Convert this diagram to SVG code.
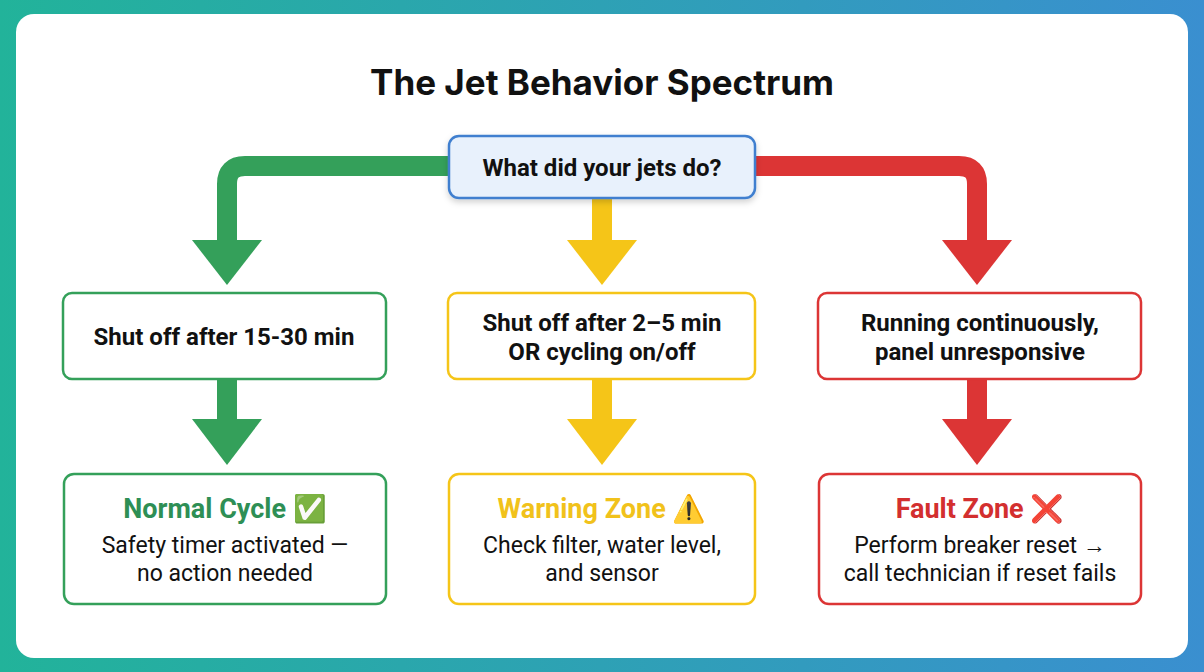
<svg xmlns="http://www.w3.org/2000/svg" width="1204" height="672" viewBox="0 0 1204 672">
<defs>
<linearGradient id="bg" x1="0" y1="0" x2="1" y2="0"><stop offset="0" stop-color="#22b39a"/><stop offset="1" stop-color="#3a8fd0"/></linearGradient>
<filter id="sh" x="-10%" y="-20%" width="120%" height="150%"><feDropShadow dx="0" dy="3" stdDeviation="3" flood-opacity="0.18"/></filter>
</defs>
<style>
text{font-family:Roboto,"Noto Sans","Liberation Sans",sans-serif;text-anchor:middle}
.t{font-size:24px;font-weight:700;fill:#111}
.d{font-size:23px;fill:#111}
.h{font-size:27px;font-weight:700}
.box{fill:#fff;stroke-width:2.5}
.ln{fill:none;stroke-width:20}
</style>
<rect width="1204" height="672" fill="url(#bg)"/>
<rect x="16" y="14" width="1172" height="644" rx="18" fill="#fff"/>
<text x="602" y="95" style="font-family:Inter,'Liberation Sans',sans-serif;font-size:35px;font-weight:700;fill:#111">The Jet Behavior Spectrum</text>
<g id="connectors">
<path class="ln" stroke="#34a05a" d="M455 166 H245 Q227 166 227 184 V245"/>
<polygon fill="#34a05a" points="192,240 262,240 227,285"/>
<path class="ln" stroke="#f5c518" d="M602 198 V245"/>
<polygon fill="#f5c518" points="567,240 637,240 602,285"/>
<path class="ln" stroke="#dc3535" d="M749 166 H959 Q977 166 977 184 V245"/>
<polygon fill="#dc3535" points="942,240 1012,240 977,285"/>
<path class="ln" stroke="#34a05a" d="M227 379 V424"/>
<polygon fill="#34a05a" points="192,419 262,419 227,465"/>
<path class="ln" stroke="#f5c518" d="M602 379 V424"/>
<polygon fill="#f5c518" points="567,419 637,419 602,465"/>
<path class="ln" stroke="#dc3535" d="M977 379 V424"/>
<polygon fill="#dc3535" points="942,419 1012,419 977,465"/>
</g>
<g id="root"><rect x="449" y="136" width="306" height="62" rx="10" fill="#e8f1fc" stroke="#3f7fcf" stroke-width="2.5" filter="url(#sh)"/><text class="t" x="602" y="176">What did your jets do?</text></g>
<g id="g1"><rect class="box" x="63" y="293" width="323" height="86" rx="9" stroke="#34a05a"/><text class="t" x="224" y="345">Shut off after 15-30 min</text></g>
<g id="y1"><rect class="box" x="448" y="293" width="307" height="86" rx="9" stroke="#f5c518"/><text class="t" x="602" y="331">Shut off after 2–5 min</text><text class="t" x="602" y="360">OR cycling on/off</text></g>
<g id="r1"><rect class="box" x="818" y="293" width="323" height="86" rx="9" stroke="#dc3535"/><text class="t" x="980" y="331">Running continuously,</text><text class="t" x="980" y="360">panel unresponsive</text></g>
<g id="g2"><rect class="box" x="64" y="474" width="322" height="130" rx="10" stroke="#34a05a" stroke-width="3.5"/><text class="h" x="225" y="518" fill="#2e8f55">Normal Cycle ✅</text><text class="d" x="225" y="553">Safety timer activated —</text><text class="d" x="225" y="581">no action needed</text></g>
<g id="y2"><rect class="box" x="449" y="474" width="306" height="130" rx="10" stroke="#f5c518" stroke-width="3.5"/><text class="h" x="602" y="518" fill="#f1c21b">Warning Zone ⚠️</text><text class="d" x="602" y="553">Check filter, water level,</text><text class="d" x="602" y="581">and sensor</text></g>
<g id="r2"><rect class="box" x="819" y="474" width="322" height="130" rx="10" stroke="#dc3535" stroke-width="3.5"/><text class="h" x="980" y="518" fill="#d32f2f">Fault Zone ❌</text><text class="d" x="980" y="553">Perform breaker reset →</text><text class="d" x="980" y="581">call technician if reset fails</text></g>
</svg>
